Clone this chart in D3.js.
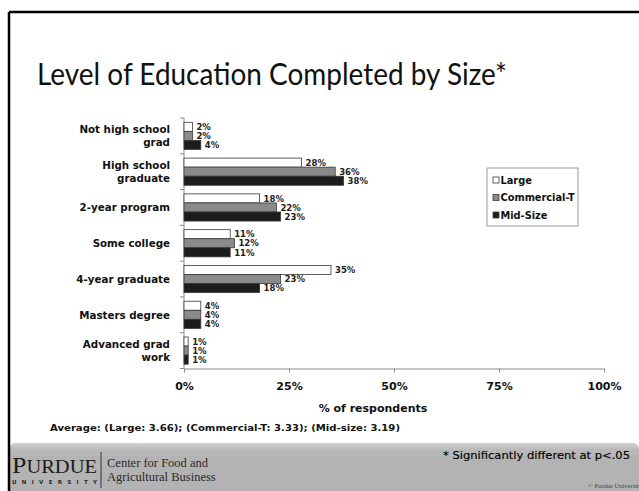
<!DOCTYPE html>
<html>
<head>
<meta charset="utf-8">
<script src="https://cdn.jsdelivr.net/npm/d3@7/dist/d3.min.js"></script>
<style>
  html, body { margin: 0; padding: 0; background: #fff; }
  svg { display: block; }
</style>
</head>
<body>
<svg id="chart" width="639" height="491"></svg>
<script>
// Education categories (top to bottom) and percentage of respondents per farm size
const categories = [
  ["Not high school", "grad"],
  ["High school", "graduate"],
  ["2-year program"],
  ["Some college"],
  ["4-year graduate"],
  ["Masters degree"],
  ["Advanced grad", "work"]
];
const seriesNames = ["Large", "Commercial-T", "Mid-Size"];
const largeValues      = [2, 28, 18, 11, 35, 4, 1];
const commercialValues = [2, 36, 22, 12, 23, 4, 1];
const midSizeValues    = [4, 38, 23, 11, 18, 4, 1];
const xTicks = [0, 25, 50, 75, 100];

const titleText = "Level of Education Completed by Size*";
const averageText = "Average: (Large: 3.66); (Commercial-T: 3.33); (Mid-size: 3.19)";
const noteText = "* Significantly different at p<.05";

const fills = ["#ffffff", "#8a8a8a", "#1c1c1c"];
const seriesValues = [largeValues, commercialValues, midSizeValues];

const svg = d3.select("#chart");
const W = 639, H = 491;

// Slide frame: footer band, then border lines on left and top
const grad = svg.append("defs").append("linearGradient")
  .attr("id", "footerGrad").attr("x1", 0).attr("y1", 0).attr("x2", 0).attr("y2", 1);
grad.append("stop").attr("offset", "0%").attr("stop-color", "#d2d2d2");
grad.append("stop").attr("offset", "15%").attr("stop-color", "#b8b8b8");
grad.append("stop").attr("offset", "100%").attr("stop-color", "#b3b3b3");
svg.append("rect").attr("x", 9).attr("y", 443).attr("width", W - 9).attr("height", H - 443)
  .attr("rx", 6).attr("fill", "url(#footerGrad)");
svg.append("rect").attr("x", 9).attr("y", 456).attr("width", W - 9).attr("height", H - 456)
  .attr("fill", "#b3b3b3");
svg.append("line").attr("x1", 9).attr("y1", 12).attr("x2", W).attr("y2", 12)
  .attr("stroke", "#000").attr("stroke-width", 2.5);
svg.append("line").attr("x1", 9).attr("y1", 12).attr("x2", 9).attr("y2", H)
  .attr("stroke", "#000").attr("stroke-width", 2.5);

// Title
svg.append("text").attr("x", 37).attr("y", 85)
  .attr("font-family", "Lato, 'Open Sans', sans-serif").attr("font-size", 31)
  .attr("fill", "#111").attr("textLength", 470).attr("lengthAdjust", "spacingAndGlyphs")
  .text(titleText);

// Scales
const plot = { left: 184, right: 604, top: 118, bottom: 368.5 };
const x = d3.scaleLinear().domain([0, 100]).range([plot.left, plot.right]);
const y = d3.scaleBand().domain(d3.range(categories.length))
  .range([plot.top, plot.bottom]).paddingInner(0.24).paddingOuter(0.12);
const ySub = d3.scaleBand().domain(d3.range(seriesNames.length)).range([0, y.bandwidth()]);

const labelFont = "'DejaVu Sans', Verdana, sans-serif";

// Vertical category axis with ticks between categories
const step = y.step();
const yAxis = svg.append("g");
yAxis.append("line").attr("x1", plot.left).attr("x2", plot.left)
  .attr("y1", plot.top).attr("y2", plot.bottom).attr("stroke", "#8c8c8c");
yAxis.selectAll("line.tk").data(d3.range(categories.length + 1)).join("line")
  .attr("class", "tk")
  .attr("x1", plot.left - 4).attr("x2", plot.left)
  .attr("y1", i => plot.top + i * step).attr("y2", i => plot.top + i * step)
  .attr("stroke", "#8c8c8c");

// Category labels
const catG = svg.append("g");
categories.forEach((lines, i) => {
  const cy = y(i) + y.bandwidth() / 2;
  const t = catG.append("text")
    .attr("x", 170).attr("text-anchor", "end")
    .attr("font-family", labelFont).attr("font-weight", "bold").attr("font-size", 10.3)
    .attr("fill", "#111");
  const lh = 13;
  const y0 = cy + 4 - (lines.length - 1) * lh / 2;
  lines.forEach((ln, j) => {
    t.append("tspan").attr("x", 170).attr("y", y0 + j * lh).text(ln);
  });
});

// Bars and value labels
const barG = svg.append("g");
seriesValues.forEach((vals, s) => {
  barG.selectAll(null).data(vals).join("rect")
    .attr("x", x(0))
    .attr("y", (d, i) => y(i) + ySub(s))
    .attr("width", d => x(d) - x(0))
    .attr("height", ySub.bandwidth())
    .attr("fill", fills[s])
    .attr("stroke", "#3a3a3a").attr("stroke-width", 0.8);
  barG.selectAll(null).data(vals).join("text")
    .attr("x", d => x(d) + 4)
    .attr("y", (d, i) => y(i) + ySub(s) + ySub.bandwidth() / 2 + 3.2)
    .attr("font-family", labelFont).attr("font-weight", "bold").attr("font-size", 8.5)
    .attr("fill", "#222")
    .text(d => d + "%");
});

// Horizontal value axis
const xAxisG = svg.append("g").attr("transform", `translate(0,${plot.bottom})`)
  .call(d3.axisBottom(x).tickValues(xTicks).tickSize(4).tickSizeOuter(0).tickFormat(d => d + "%"));
xAxisG.select(".domain").attr("stroke", "#8c8c8c");
xAxisG.selectAll(".tick line").attr("stroke", "#8c8c8c");
xAxisG.selectAll(".tick text")
  .attr("font-family", labelFont).attr("font-weight", "bold").attr("font-size", 11)
  .attr("fill", "#111").attr("y", 14);

svg.append("text").attr("x", 373).attr("y", 412)
  .attr("text-anchor", "middle")
  .attr("font-family", labelFont).attr("font-weight", "bold").attr("font-size", 11)
  .attr("fill", "#111").text("% of respondents");

// Legend
const lg = svg.append("g").attr("transform", "translate(487,168)");
lg.append("rect").attr("width", 91).attr("height", 58)
  .attr("fill", "#fff").attr("stroke", "#9a9a9a");
seriesNames.forEach((name, i) => {
  const cy = 12 + i * 17.5;
  lg.append("rect").attr("x", 6).attr("y", cy - 3).attr("width", 6).attr("height", 6)
    .attr("fill", fills[i]).attr("stroke", "#3a3a3a").attr("stroke-width", 0.8);
  lg.append("text").attr("x", 13.5).attr("y", cy + 3.8)
    .attr("font-family", labelFont).attr("font-weight", "bold").attr("font-size", 9.8)
    .attr("fill", "#111").text(name);
});

// Averages line
svg.append("text").attr("x", 50).attr("y", 431)
  .attr("font-family", labelFont).attr("font-weight", "bold").attr("font-size", 9)
  .attr("fill", "#111").attr("textLength", 350).attr("lengthAdjust", "spacingAndGlyphs")
  .text(averageText);

// Footer: significance note, logo and credit
svg.append("text").attr("x", 443).attr("y", 459)
  .attr("font-family", "'DejaVu Sans', sans-serif").attr("font-size", 10.5)
  .attr("fill", "#000").attr("stroke", "#000").attr("stroke-width", 0.15)
  .attr("textLength", 187).attr("lengthAdjust", "spacingAndGlyphs")
  .text(noteText);

const logo = svg.append("text").attr("x", 12).attr("y", 473)
  .attr("font-family", "'Liberation Serif', 'DejaVu Serif', serif")
  .attr("fill", "#1a1a1a").attr("textLength", 85).attr("lengthAdjust", "spacingAndGlyphs");
logo.append("tspan").attr("font-size", 24).text("P");
logo.append("tspan").attr("font-size", 19).text("URDUE");

svg.append("text").attr("x", 12).attr("y", 484)
  .attr("font-family", "'DejaVu Sans', sans-serif").attr("font-weight", "bold").attr("font-size", 5.5)
  .attr("fill", "#2a2a2a").attr("textLength", 85).attr("lengthAdjust", "spacing")
  .text("UNIVERSITY");

svg.append("line").attr("x1", 101).attr("x2", 101).attr("y1", 452).attr("y2", 488)
  .attr("stroke", "#333").attr("stroke-width", 1);

svg.append("text").attr("x", 107).attr("y", 467)
  .attr("font-family", "'Liberation Serif', serif").attr("font-size", 12.5)
  .attr("fill", "#2a2a2a").text("Center for Food and");
svg.append("text").attr("x", 107).attr("y", 481)
  .attr("font-family", "'Liberation Serif', serif").attr("font-size", 12.5)
  .attr("fill", "#2a2a2a").text("Agricultural Business");

svg.append("text").attr("x", 588).attr("y", 488)
  .attr("font-family", "'Liberation Serif', serif").attr("font-size", 6.5)
  .attr("fill", "#444").text("© Purdue University");
</script>
</body>
</html>
